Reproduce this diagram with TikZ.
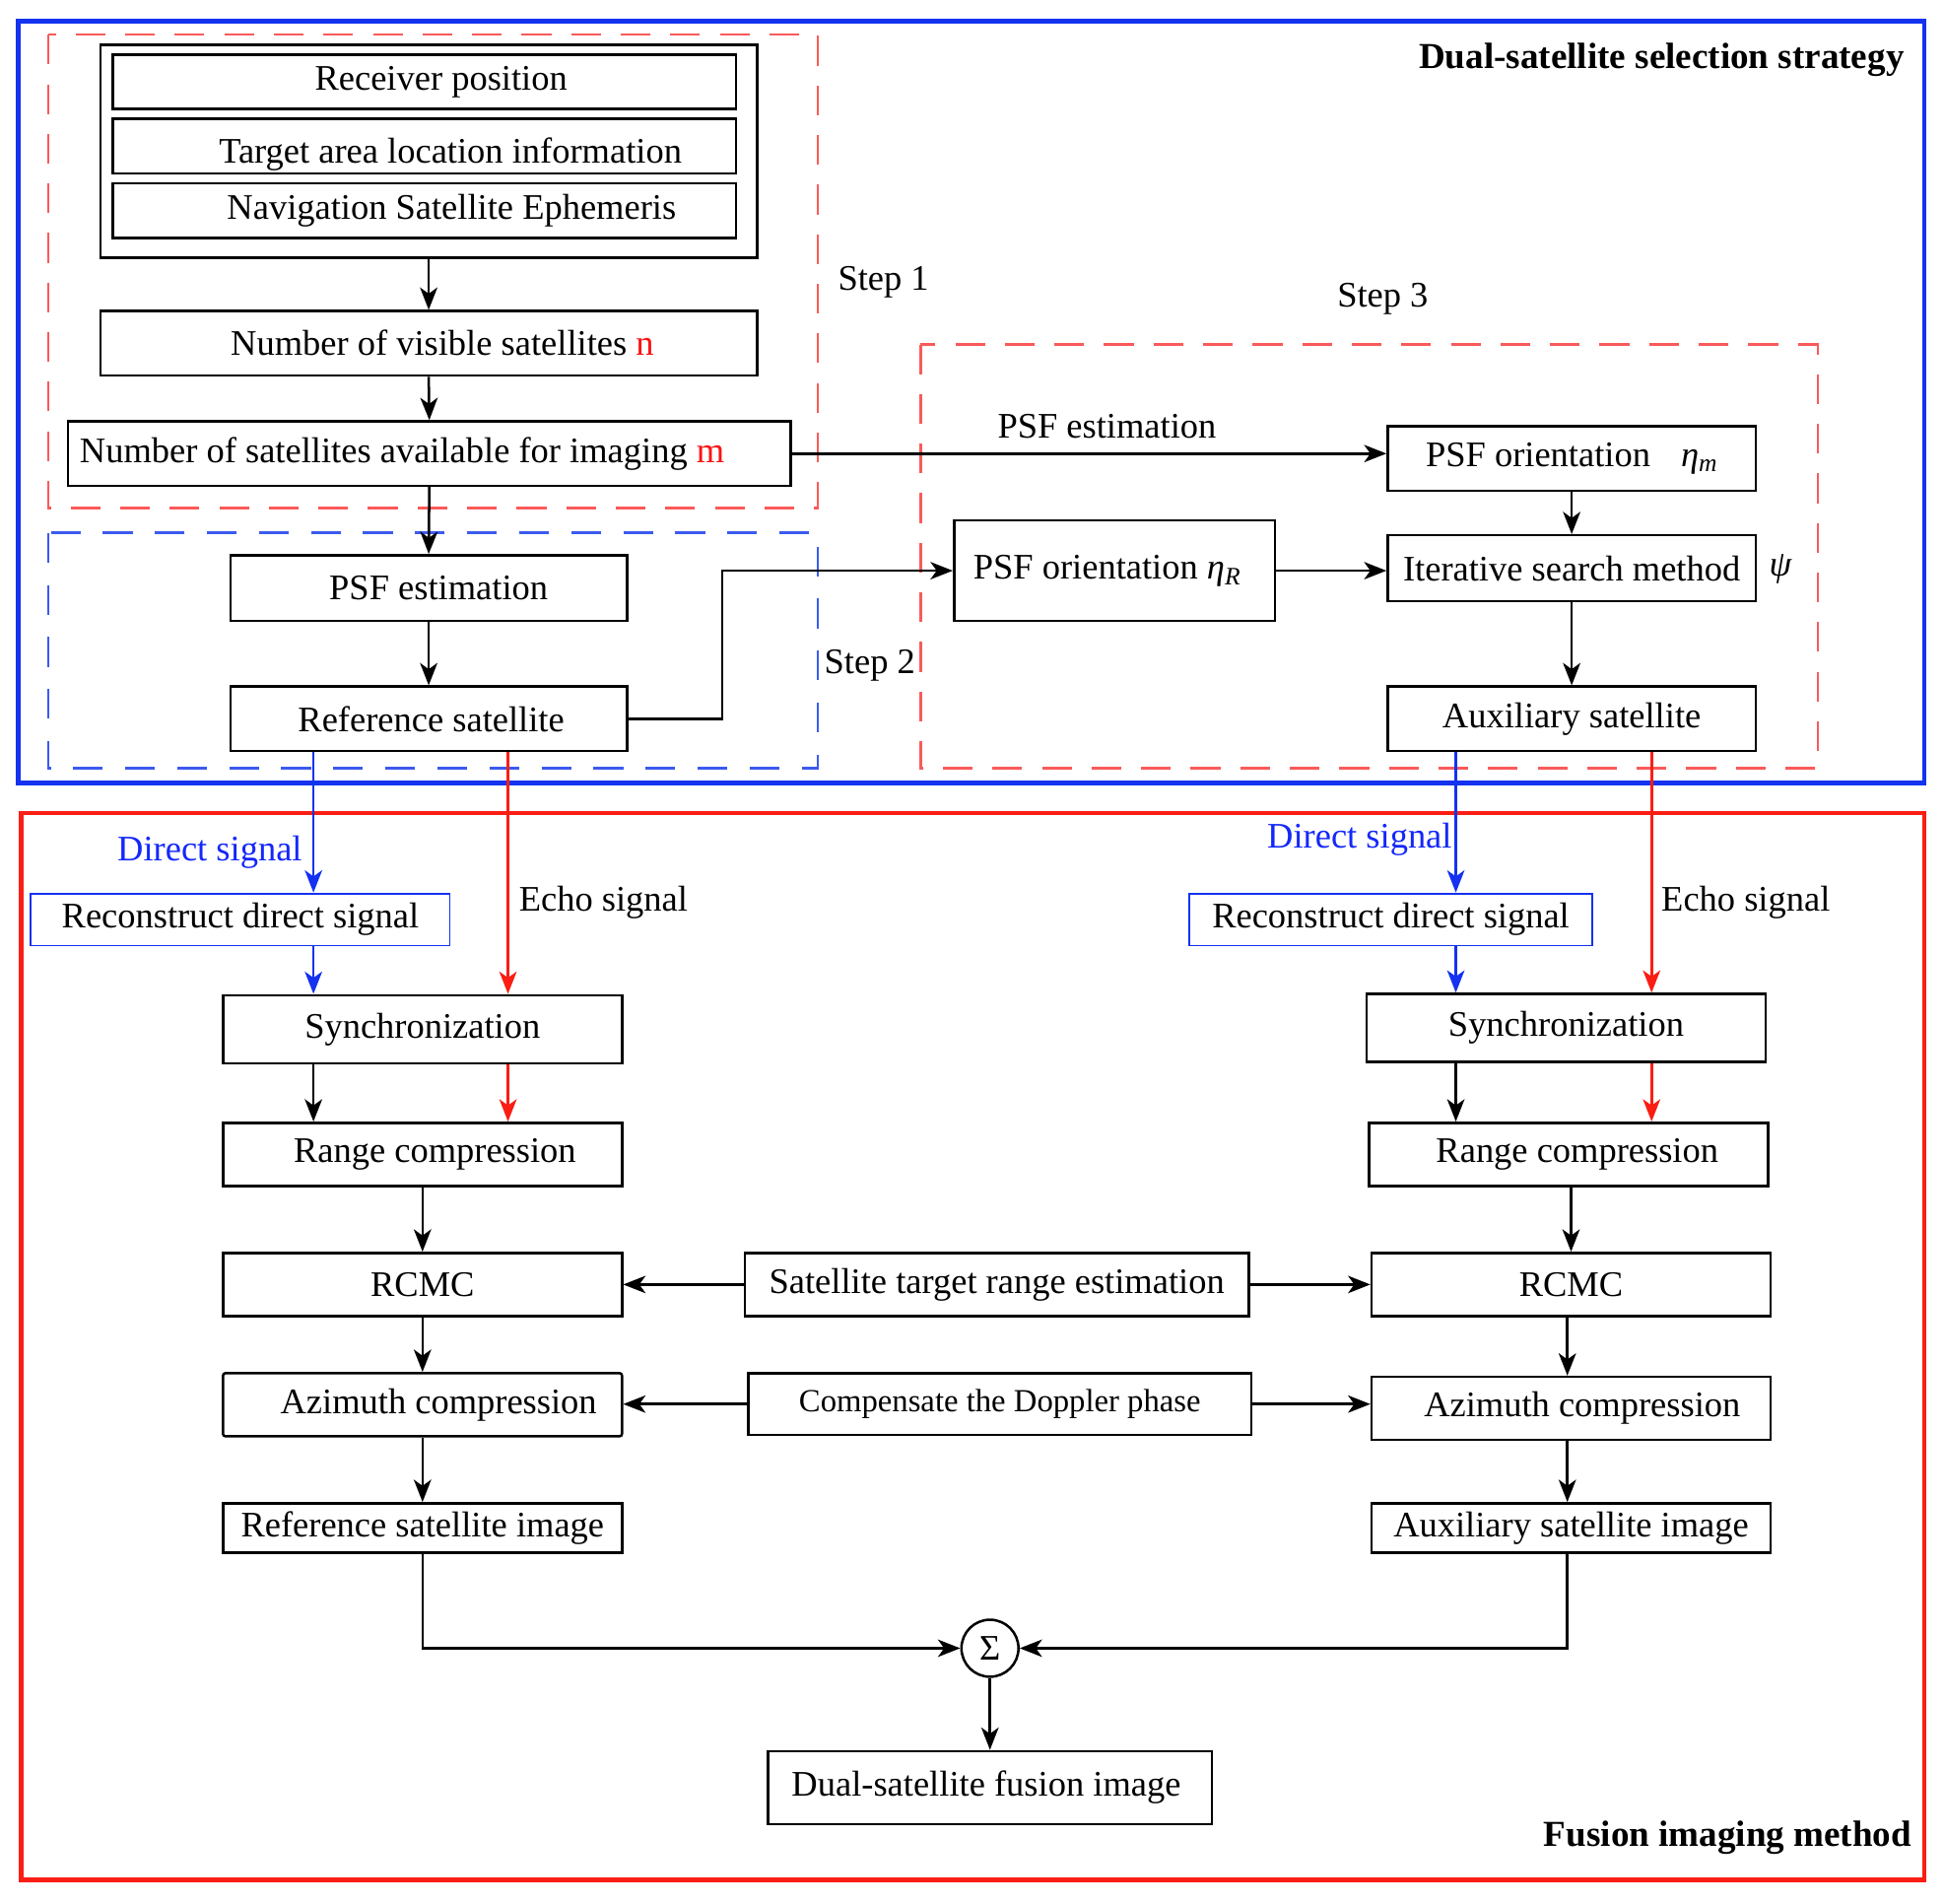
\documentclass[tikz,border=0pt]{standalone}
\usepackage{fontspec}
\setmainfont{Liberation Serif}
\usetikzlibrary{arrows.meta,calc}
\definecolor{bframe}{RGB}{20,50,240}
\definecolor{rframe}{RGB}{250,30,20}
\definecolor{rdash}{RGB}{250,90,90}
\definecolor{bdash}{RGB}{60,90,240}
\definecolor{btext}{RGB}{20,40,250}
\definecolor{rtext}{RGB}{250,20,20}
\begin{document}
\begin{tikzpicture}[x=1pt,y=-1pt,
  every node/.style={font=\fontsize{29}{34}\selectfont},
  box/.style={draw,line width=2pt,inner sep=0pt,align=center},
  wh/.style 2 args={minimum width=#1pt,minimum height=#2pt},
  arr/.style={-{Stealth[length=18pt,width=14pt,inset=5pt]},line width=2pt},
  barr/.style={arr,draw=bframe},
  rarr/.style={arr,draw=rframe},
  rdbox/.style={draw=rdash,line width=2pt,dash pattern=on 24pt off 16pt},
  bdbox/.style={draw=bdash,line width=2pt,dash pattern=on 24pt off 18pt},
  lbl/.style={inner sep=0pt},
  ttl/.style={inner sep=0pt,font=\fontsize{29.5}{34}\selectfont\bfseries}]
\fill[white] (0,0) rectangle (1569,1536);
\useasboundingbox (0,0) rectangle (1569,1536);

% frames
\draw[draw=bframe,line width=3.8pt] (15,17) rectangle (1553,632);
\draw[draw=rframe,line width=3.8pt] (17,656) rectangle (1553,1517);
\draw[rdbox] (39,28) rectangle (660,410);
\draw[bdbox] (39,430) rectangle (660,620);
\draw[rdbox] (743,278) rectangle (1467,620);

\node[ttl,anchor=east] (t1) at (1537,48) {Dual-satellite selection strategy};
\node[ttl,anchor=east] (t2) at (1543,1483) {Fusion imaging method};
\node[lbl] (s1) at (713,228) {Step 1};
\node[lbl] (s2) at (702,537) {Step 2};
\node[lbl] (s3) at (1116,241) {Step 3};

% upper part
\node[box,wh={530}{172}] (inbox) at (346,122) {};
\node[box,wh={503}{44}] (recv) at (342.5,66) {\hspace*{27pt}Receiver position};
\node[box,wh={503}{44}] (targ) at (342.5,118) {\hspace*{42pt}\raisebox{-14pt}[0pt][0pt]{Target area location information}};
\node[box,wh={503}{44}] (nav) at (342.5,170) {\hspace*{44pt}Navigation Satellite Ephemeris};
\node[box,wh={530}{52}] (visn) at (346,277) {\hspace*{22pt}Number of visible satellites \textcolor{rtext}{n}};
\node[box,wh={583}{52}] (avm) at (346.5,366) {Number of satellites available for imaging \textcolor{rtext}{m}\hspace*{44pt}};
\node[box,wh={320}{53}] (psfest) at (346,474.5) {\hspace*{16pt}PSF estimation};
\node[box,wh={320}{52}] (refsat) at (346,580) {\hspace*{4pt}Reference satellite};
\node[box,wh={259}{81}] (etaR) at (899.5,460.5) {PSF orientation {\itshape η}\textsubscript{\itshape R}\hspace*{12pt}};
\node[box,wh={297}{52}] (etam) at (1268.5,370) {PSF orientation\hspace{0.6em} {\itshape η}\textsubscript{\itshape m}};
\node[box,wh={297}{53}] (iter) at (1268.5,458.5) {Iterative search method};
\node[box,wh={297}{52}] (auxsat) at (1268.5,580) {Auxiliary satellite};
\node[lbl] (psi) at (1437,459) {\itshape ψ};

\draw[arr] (inbox.south) -- (visn.north);
\draw[arr] (visn.south) -- (avm.north);
\draw[arr] (avm.south) -- (psfest.north);
\draw[arr] (psfest.south) -- (refsat.north);
\draw[arr] (refsat.east) -- ++(76,0) |- (etaR.west);
\draw[arr] (etaR.east) -- (etaR.east -| iter.west);
\draw[arr] (avm.east) -- node[lbl,above=11pt,pos=0.53] (psflbl) {PSF estimation} (avm.east -| etam.west);
\draw[arr] (etam.south) -- (iter.north);
\draw[arr] (iter.south) -- (auxsat.north);

% lower left
\coordinate (bl) at (253,0);
\coordinate (rl) at (410,0);
\coordinate (br) at (1175,0);
\coordinate (rr) at (1333,0);
\node[box,draw=bframe,line width=1.5pt,wh={338}{42}] (recL) at (194,742) {Reconstruct direct signal};
\node[box,wh={322}{55}] (syncL) at (341,830.5) {Synchronization};
\node[box,wh={322}{51}] (rangeL) at (341,931.5) {\hspace*{20pt}Range compression};
\node[box,wh={322}{51}] (rcmcL) at (341,1036.5) {RCMC};
\node[box,rounded corners=2pt,wh={322}{51}] (azL) at (341,1133.5) {\hspace*{26pt}\raisebox{2pt}{Azimuth compression}};
\node[box,wh={322}{40}] (refimg) at (341,1233) {Reference satellite image};
\node[box,wh={407}{51}] (sre) at (804.5,1036.5) {Satellite target range estimation};
\node[box,wh={406}{50},font=\fontsize{26}{30}\selectfont] (dop) at (807,1133) {Compensate the Doppler phase};
\node[draw,circle,line width=2pt,minimum size=46pt,inner sep=0pt] (sum) at (799,1330) {Σ};
\node[box,wh={358}{59}] (fusion) at (799,1442.5) {\hspace*{-6pt}Dual-satellite fusion image};

% lower right
\node[box,draw=bframe,line width=1.5pt,wh={325}{42}] (recR) at (1122.5,742) {Reconstruct direct signal};
\node[box,wh={322}{55}] (syncR) at (1264,829.5) {Synchronization};
\node[box,wh={322}{51}] (rangeR) at (1266,931.5) {\hspace*{14pt}Range compression};
\node[box,wh={322}{51}] (rcmcR) at (1268,1036.5) {RCMC};
\node[box,wh={322}{51}] (azR) at (1268,1136.5) {\hspace*{18pt}Azimuth compression};
\node[box,wh={322}{40}] (auximg) at (1268,1233) {Auxiliary satellite image};

% signal labels
\node[lbl,text=btext,anchor=east] (dsL) at (244,688) {Direct signal};
\node[lbl,text=btext,anchor=east] (dsR) at (1172,677) {Direct signal};
\node[lbl] (esL) at (487,728) {Echo signal};
\node[lbl] (esR) at (1409,728) {Echo signal};

% left signal paths
\draw[barr] (bl |- refsat.south) -- (bl |- recL.north);
\draw[barr] (bl |- recL.south) -- (bl |- syncL.north);
\draw[rarr] (rl |- refsat.south) -- (rl |- syncL.north);
\draw[arr] (bl |- syncL.south) -- (bl |- rangeL.north);
\draw[rarr] (rl |- syncL.south) -- (rl |- rangeL.north);
\draw[arr] (rangeL.south) -- (rcmcL.north);
\draw[arr] (rcmcL.south) -- (azL.north);
\draw[arr] (azL.south) -- (refimg.north);
\draw[arr] (refimg.south) |- (sum.west);

% right signal paths
\draw[barr] (br |- auxsat.south) -- (br |- recR.north);
\draw[barr] (br |- recR.south) -- (br |- syncR.north);
\draw[rarr] (rr |- auxsat.south) -- (rr |- syncR.north);
\draw[arr] (br |- syncR.south) -- (br |- rangeR.north);
\draw[rarr] (rr |- syncR.south) -- (rr |- rangeR.north);
\draw[arr] (rcmcR.north |- rangeR.south) -- (rcmcR.north);
\draw[arr] ($(rcmcR.south)+(-3,0)$) -- ($(azR.north)+(-3,0)$);
\draw[arr] ($(azR.south)+(-3,0)$) -- ($(auximg.north)+(-3,0)$);
\draw[arr] ($(auximg.south)+(-3,0)$) |- (sum.east);

% middle
\draw[arr] (sre.west) -- (rcmcL.east);
\draw[arr] (sre.east) -- (rcmcR.west);
\draw[arr] (dop.west) -- (dop.west -| azL.east);
\draw[arr] (dop.east) -- (dop.east -| azR.west);
\draw[arr] (sum.south) -- (fusion.north);
\end{tikzpicture}
\end{document}
